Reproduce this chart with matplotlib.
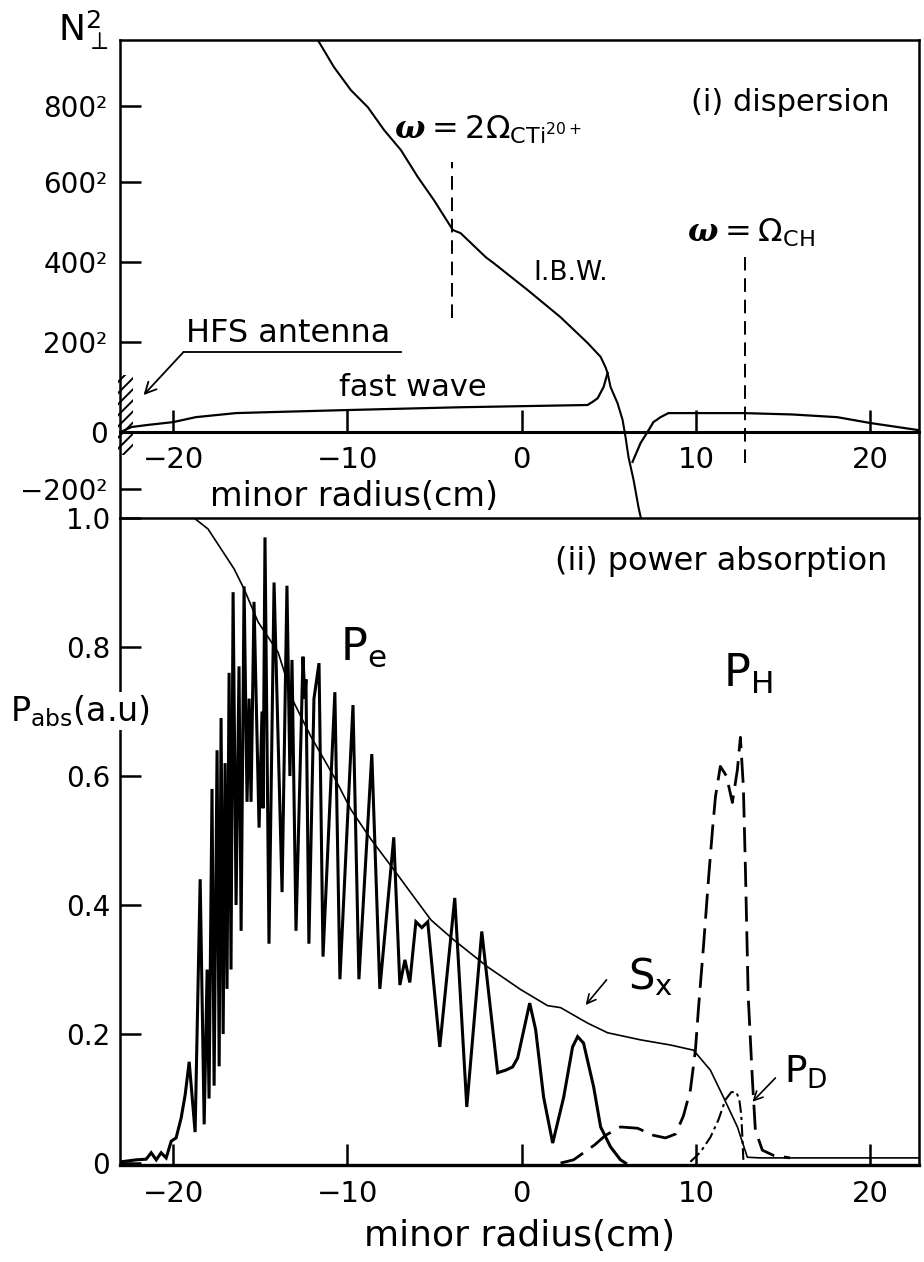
import numpy as np
import matplotlib
matplotlib.use('Agg')
import matplotlib.pyplot as plt
from matplotlib.patches import Rectangle

plt.rcParams['mathtext.fontset'] = 'custom'
plt.rcParams['mathtext.rm'] = 'DejaVu Sans'
plt.rcParams['mathtext.it'] = 'DejaVu Serif:italic:bold'
plt.rcParams['mathtext.bf'] = 'DejaVu Sans:bold'
plt.rcParams['hatch.linewidth'] = 1.4

NARROW = ['Liberation Sans Narrow', 'DejaVu Sans']
SANS = ['DejaVu Sans']

# ---------------- panel (i): dispersion, signed N_perp (axis labelled in N^2) ----------------
ibw_x = [-11.7, -10.77, -9.8, -8.83, -7.9, -6.93, -5.96, -5.04, -3.95, -3.5, -2.06, -1.6,
         0.34, 2.23, 3.78, 4.53, 4.81, 4.93, 5.10, 5.50, 5.79, 5.96, 6.13, 6.42, 6.70, 6.85]
ibw_n = [975, 903, 842, 797, 737, 684, 613, 555, 480, 472, 412, 397,
         330, 262, 198, 167, 144, 131, 100, 64, 27, -18, -88, -168, -263, -305]

fw_left_x = [-22.9, -22.4, -21.5, -20.0, -18.7, -16.4, -14.6, -9.8, -3.5, 3.78, 4.07, 4.36, 4.70, 4.93]
fw_left_n = [2, 11, 15.5, 22, 33, 42, 44, 49, 55, 60, 67, 75, 100, 131]

fw_right_x = [6.36, 6.82, 7.22, 7.56, 7.97, 8.42, 12.72, 15.5, 18.1, 20.0, 22.8]
fw_right_n = [-105, -39, 0, 22, 33, 42, 42, 39, 33, 20, 4]

res_x = [-4.0, 12.8]
res_lo = [260, -109]
res_hi = [653, 412]

n_ticks = [800, 600, 400, 200, 0, -200]
n_tick_labels = ['800²', '600²', '400²', '200²', '0', '−200²']
x_ticks = [-20, -10, 0, 10, 20]
x_tick_labels = ['−20', '−10', '0', '10', '20']

# ---------------- panel (ii): power absorption ----------------
pe_x = [-22.98, -22.12, -21.55, -21.26, -20.97, -20.69, -20.40, -20.11, -19.83, -19.54, -19.31,
        -19.08, -18.74, -18.45, -18.22, -18.05, -17.94, -17.77, -17.65, -17.48, -17.36, -17.25,
        -17.13, -17.02, -16.91, -16.79, -16.68, -16.56, -16.39, -16.22, -16.10, -15.93, -15.76,
        -15.64, -15.53, -15.36, -15.07, -14.90, -14.84, -14.73, -14.50, -14.21, -13.75, -13.47,
        -13.30, -13.18, -12.95, -12.55, -12.44, -12.38, -12.21, -11.92, -11.63, -11.40, -10.72,
        -10.43, -9.68, -9.34, -8.60, -8.14, -7.34, -6.99, -6.70,
        -6.42, -6.07, -5.73, -5.39, -4.70, -3.84, -3.15, -2.29, -1.38, -0.92, -0.52, -0.23, 0.46,
        0.80, 1.26, 1.78, 2.41, 2.92, 3.21, 3.55, 4.13, 4.53, 5.10, 5.67, 5.96]
pe_p = [0.002, 0.005, 0.006, 0.016, 0.005, 0.016, 0.008, 0.034, 0.039, 0.070, 0.106,
        0.157, 0.048, 0.44, 0.06, 0.30, 0.10, 0.58, 0.12, 0.64, 0.15, 0.69,
        0.20, 0.62, 0.27, 0.76, 0.30, 0.885, 0.40, 0.77, 0.36, 0.894, 0.56,
        0.72, 0.56, 0.87, 0.52, 0.70, 0.55, 0.97, 0.34, 0.90, 0.42, 0.895,
        0.60, 0.78, 0.36, 0.785, 0.72, 0.75, 0.34, 0.72, 0.775, 0.32, 0.73,
        0.285, 0.71, 0.285, 0.634, 0.27, 0.505, 0.276, 0.315,
        0.280, 0.374, 0.365, 0.374, 0.180, 0.411, 0.087, 0.359, 0.140, 0.144, 0.149, 0.163, 0.248,
        0.207, 0.102, 0.031, 0.102, 0.180, 0.196, 0.186, 0.118, 0.056, 0.025, 0.005, 0.0]

sx_x = [-22.98, -18.8, -18.0, -17.25, -16.5, -15.93, -15.13, -13.98, -13.07, -12.09, -10.77,
        -9.80, -8.65, -7.34, -6.36, -5.21, -3.90, -1.95, -0.06, 1.49, 2.23, 3.78, 4.93, 6.82,
        8.54, 9.86, 10.83, 11.58, 12.38, 12.95, 13.7, 22.8]
sx_p = [1.0, 1.0, 0.983, 0.952, 0.921, 0.890, 0.839, 0.792, 0.714, 0.661, 0.599,
        0.548, 0.502, 0.455, 0.419, 0.377, 0.346, 0.304, 0.269, 0.244, 0.241, 0.217, 0.202, 0.191,
        0.183, 0.175, 0.144, 0.102, 0.056, 0.009, 0.008, 0.008]

ph_x = [2.23, 2.98, 3.55, 4.18, 4.81, 5.67, 6.65, 7.56, 8.25, 8.83, 9.28, 9.68, 9.97, 10.14,
        10.43, 10.72, 10.95, 11.12, 11.40, 11.75, 12.09, 12.38, 12.55, 12.72, 12.84, 13.0,
        13.24, 13.41, 13.81, 14.44, 15.4]
ph_p = [0.0, 0.005, 0.016, 0.028, 0.043, 0.056, 0.054, 0.043, 0.039, 0.045, 0.073, 0.113, 0.175,
        0.238, 0.335, 0.44, 0.517, 0.568, 0.615, 0.60, 0.559, 0.61, 0.66, 0.584, 0.455, 0.258,
        0.129, 0.051, 0.02, 0.012, 0.008]

pd_x = [9.68, 10.26, 10.83, 11.29, 11.69, 12.03, 12.32, 12.49, 12.60, 12.66, 12.72]
pd_p = [0.002, 0.017, 0.040, 0.067, 0.098, 0.110, 0.110, 0.098, 0.075, 0.043, 0.005]

p_ticks = [0.0, 0.2, 0.4, 0.6, 0.8, 1.0]
p_tick_labels = ['0', '0.2', '0.4', '0.6', '0.8', '1.0']

XLIM = (-23.05, 22.8)

KN = np.array([-302, -200, 0, 200, 400, 600, 800, 975], float)
KP = -np.array([518, 489, 432, 342, 262, 182, 106, 40], float)


def _pw(v, a, b):
    v = np.asarray(v, float)
    out = np.interp(v, a, b)
    s0 = (b[1] - b[0]) / (a[1] - a[0])
    s1 = (b[-1] - b[-2]) / (a[-1] - a[-2])
    out = np.where(v < a[0], b[0] + (v - a[0]) * s0, out)
    out = np.where(v > a[-1], b[-1] + (v - a[-1]) * s1, out)
    return out


def fwd(v):
    return _pw(v, KN, KP)


def inv(y):
    return _pw(y, KP, KN)


fig = plt.figure(figsize=(9.24, 12.62), dpi=100)
W, H = 924.0, 1262.0
ax1 = fig.add_axes([120 / W, 1 - 518 / H, 799 / W, 478 / H])
ax2 = fig.add_axes([120 / W, 1 - 1165 / H, 799 / W, 647 / H])

LW_FRAME = 1.8

# ---- panel (i)
ax1.set_yscale('function', functions=(fwd, inv))
ax1.set_xlim(*XLIM)
ax1.set_ylim(-302, 975)
ax1.plot(ibw_x, ibw_n, color='k', lw=1.5)
ax1.plot(fw_left_x, fw_left_n, color='k', lw=1.6)
ax1.plot(fw_right_x, fw_right_n, color='k', lw=1.6)
for xr, lo, hi in zip(res_x, res_lo, res_hi):
    ax1.plot([xr, xr], [lo, hi], color='k', lw=1.4, linestyle=(0, (7, 4)))

for s in ax1.spines.values():
    s.set_linewidth(LW_FRAME)
ax1.spines['bottom'].set_position(('data', 0))
ax1.spines['bottom'].set_linewidth(2.2)
ax1.set_yticks(n_ticks)
ax1.set_yticklabels(n_tick_labels, family=NARROW, fontsize=20)
ax1.set_xticks(x_ticks)
ax1.set_xticklabels(x_tick_labels, family=NARROW, fontsize=21)
ax1.yaxis.set_minor_locator(matplotlib.ticker.NullLocator())
ax1.tick_params(axis='y', direction='in', length=15, width=1.8, pad=9)
ax1.tick_params(axis='x', direction='in', length=16, width=1.8, pad=10)

ax1.add_patch(Rectangle((XLIM[0] - 0.1, -80), 0.85, 207, hatch='///', fill=False,
                        lw=0, edgecolor='k', zorder=3, clip_on=False))

ax1.text(-9.6, -228, 'minor radius(cm)', family=SANS, fontsize=24, ha='center', va='center')
ax1.text(21.1, 808, '(i) dispersion', family=SANS, fontsize=22, ha='right', va='center')
ax1.text(-7.3, 737, r'$\omega = 2\mathit{Ω}_{\mathrm{CT}\mathrm{i}^{20+}}$', fontsize=23,
         ha='left', va='center')
ax1.text(9.5, 472, r'$\omega = \mathit{Ω}_{\mathrm{CH}}$', fontsize=23, ha='left', va='center')
ax1.text(2.8, 372, 'I.B.W.', family=SANS, fontsize=19, ha='center', va='center')
ax1.text(-6.25, 100, 'fast wave', family=SANS, fontsize=22, ha='center', va='center')
ax1.text(-13.4, 222, 'HFS antenna', family=SANS, fontsize=23, ha='center', va='center')
ax1.plot([-6.9, -19.4], [178, 178], color='k', lw=1.3)
ax1.annotate('', xy=(-21.7, 82), xytext=(-19.4, 178),
             arrowprops=dict(arrowstyle='->', lw=1.3, color='k', shrinkA=0, shrinkB=0,
                             mutation_scale=20))

fig.text(58 / W, 1 - 30 / H, r'$\mathrm{N}_{\perp}^{2}$', fontsize=26, ha='left', va='center')

# ---- panel (ii)
ax2.set_xlim(*XLIM)
ax2.set_ylim(-0.003, 1.0)
ax2.plot(pe_x, pe_p, color='k', lw=2.2, solid_joinstyle='miter')
ax2.plot(sx_x, sx_p, color='k', lw=1.2)
ax2.plot(ph_x, ph_p, color='k', lw=2.0, linestyle=(0, (9, 3.5)))
ax2.plot(pd_x, pd_p, color='k', lw=1.5, linestyle=(0, (6, 2, 1.5, 2)))

for s in ax2.spines.values():
    s.set_linewidth(LW_FRAME)
ax2.spines['bottom'].set_linewidth(2.4)
ax2.set_yticks(p_ticks)
ax2.set_yticklabels(p_tick_labels, family=NARROW, fontsize=20)
ax2.set_xticks(x_ticks)
ax2.set_xticklabels(x_tick_labels, family=NARROW, fontsize=21)
ax2.tick_params(axis='y', direction='in', length=15, width=1.8, pad=7)
ax2.tick_params(axis='x', direction='in', length=15, width=1.8, pad=11)
ax2.set_xlabel('minor radius(cm)', family=NARROW, fontsize=26, labelpad=8)

ax2.text(21.0, 0.933, '(ii) power absorption', family=SANS, fontsize=23, ha='right', va='center')
ax2.text(-9.1, 0.80, r'$\mathrm{P_e}$', fontsize=32, ha='center', va='center')
ax2.text(12.95, 0.758, r'$\mathrm{P_H}$', fontsize=32, ha='center', va='center')
ax2.text(7.4, 0.289, r'$\mathrm{S_x}$', fontsize=30, ha='center', va='center')
ax2.text(16.3, 0.14, r'$\mathrm{P_D}$', fontsize=27, ha='center', va='center')
ax2.annotate('', xy=(3.67, 0.245), xytext=(4.87, 0.284),
             arrowprops=dict(arrowstyle='->', lw=1.2, color='k', shrinkA=0, shrinkB=0,
                             mutation_scale=16))
ax2.annotate('', xy=(13.24, 0.095), xytext=(14.56, 0.132),
             arrowprops=dict(arrowstyle='->', lw=1.2, color='k', shrinkA=0, shrinkB=0,
                             mutation_scale=16))

fig.text(10 / W, 1 - 711 / H, r'$\mathrm{P_{abs}}$(a.u)', family=SANS, fontsize=24,
         ha='left', va='center', bbox=dict(facecolor='white', edgecolor='none', pad=1))

fig.savefig('out.png', dpi=100)
